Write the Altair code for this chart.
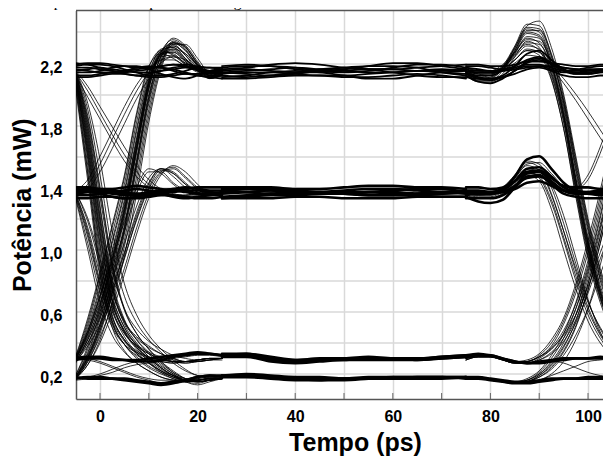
import altair as alt
import pandas as pd

# ---------------- axis / text ----------------
header_text = "multiplexador de amplitudes da Fig. 1."
x_title = "Tempo (ps)"
y_title = "Potência (mW)"
x_grid_values = [0, 10, 20, 30, 40, 50, 60, 70, 80, 90, 100]
y_grid_values = [0.2, 0.4, 0.6, 0.8, 1.0, 1.2, 1.4, 1.6, 1.8, 2.0, 2.2, 2.4]

# ---------------- time grids (ps) ----------------
LEFT_T = [-5, -2.5, 0, 2.5, 5, 7.5, 10, 12.5, 15, 17.5, 20, 22.5, 25]
MID_T = [25, 30, 35, 40, 45, 50, 55, 60, 65, 70, 75]
RIGHT_T = [75, 77.5, 80, 82.5, 85, 87.5, 90, 92.5, 95, 97.5, 100, 102.5, 105]

# ---------------- left side (first crossing) ----------------
left_rise_top = [
    [0.29, 0.45, 0.68, 0.96, 1.26, 1.66, 2.06, 2.25, 2.28, 2.22, 2.16, 2.12, 2.14],
    [0.18, 0.33, 0.55, 0.84, 1.16, 1.58, 2.00, 2.24, 2.31, 2.26, 2.18, 2.12, 2.13],
    [0.30, 0.52, 0.80, 1.10, 1.42, 1.82, 2.14, 2.27, 2.26, 2.19, 2.14, 2.12, 2.15],
    [0.17, 0.28, 0.46, 0.72, 1.02, 1.42, 1.86, 2.18, 2.33, 2.31, 2.21, 2.12, 2.12],
    [0.28, 0.42, 0.62, 0.90, 1.22, 1.64, 2.04, 2.27, 2.35, 2.30, 2.20, 2.12, 2.12],
    [0.31, 0.56, 0.85, 1.16, 1.48, 1.88, 2.18, 2.26, 2.23, 2.18, 2.15, 2.14, 2.16],
    [0.19, 0.36, 0.60, 0.90, 1.24, 1.66, 2.06, 2.28, 2.32, 2.25, 2.15, 2.10, 2.13],
    [0.27, 0.40, 0.58, 0.84, 1.14, 1.56, 1.98, 2.25, 2.36, 2.31, 2.19, 2.10, 2.13],
    [0.30, 0.48, 0.74, 1.04, 1.36, 1.76, 2.10, 2.26, 2.27, 2.21, 2.15, 2.13, 2.15],
    [0.17, 0.30, 0.50, 0.78, 1.10, 1.52, 1.94, 2.22, 2.34, 2.29, 2.18, 2.10, 2.12],
    [0.29, 0.50, 0.76, 1.06, 1.38, 1.78, 2.12, 2.29, 2.30, 2.23, 2.16, 2.13, 2.16],
    [0.18, 0.32, 0.52, 0.80, 1.12, 1.54, 1.96, 2.21, 2.29, 2.26, 2.19, 2.14, 2.14],
    [0.30, 0.44, 0.64, 0.92, 1.24, 1.64, 2.04, 2.24, 2.25, 2.20, 2.17, 2.15, 2.15],
    [0.17, 0.26, 0.42, 0.66, 0.96, 1.36, 1.82, 2.16, 2.32, 2.32, 2.23, 2.13, 2.11],
    [0.29, 0.47, 0.71, 1.00, 1.32, 1.72, 2.08, 2.26, 2.29, 2.22, 2.15, 2.12, 2.14],
    [0.18, 0.34, 0.57, 0.87, 1.20, 1.62, 2.03, 2.26, 2.31, 2.25, 2.17, 2.12, 2.13],
    [0.31, 0.54, 0.83, 1.14, 1.46, 1.86, 2.17, 2.28, 2.25, 2.19, 2.15, 2.13, 2.15],
    [0.17, 0.29, 0.48, 0.75, 1.06, 1.47, 1.90, 2.20, 2.33, 2.30, 2.20, 2.12, 2.12],
    [0.28, 0.43, 0.65, 0.94, 1.26, 1.68, 2.07, 2.27, 2.33, 2.28, 2.19, 2.13, 2.13],
    [0.19, 0.38, 0.63, 0.94, 1.28, 1.70, 2.09, 2.28, 2.30, 2.23, 2.15, 2.11, 2.13],
    [0.30, 0.46, 0.70, 0.98, 1.30, 1.70, 2.08, 2.25, 2.27, 2.21, 2.15, 2.13, 2.15],
    [0.17, 0.31, 0.52, 0.81, 1.14, 1.56, 1.98, 2.24, 2.33, 2.28, 2.18, 2.11, 2.12],
]
left_rise_mid = [
    [0.29, 0.40, 0.56, 0.76, 0.98, 1.22, 1.42, 1.52, 1.50, 1.43, 1.37, 1.35, 1.36],
    [0.17, 0.28, 0.44, 0.64, 0.88, 1.14, 1.36, 1.49, 1.52, 1.46, 1.39, 1.35, 1.35],
    [0.30, 0.46, 0.66, 0.88, 1.12, 1.36, 1.50, 1.50, 1.43, 1.38, 1.36, 1.36, 1.37],
    [0.18, 0.30, 0.48, 0.70, 0.94, 1.20, 1.40, 1.51, 1.49, 1.42, 1.37, 1.35, 1.36],
    [0.28, 0.38, 0.52, 0.72, 0.95, 1.19, 1.39, 1.50, 1.53, 1.47, 1.40, 1.36, 1.35],
    [0.31, 0.48, 0.70, 0.94, 1.18, 1.40, 1.52, 1.49, 1.42, 1.37, 1.36, 1.37, 1.37],
    [0.17, 0.26, 0.40, 0.60, 0.84, 1.10, 1.33, 1.48, 1.54, 1.50, 1.42, 1.36, 1.35],
    [0.29, 0.42, 0.60, 0.81, 1.04, 1.28, 1.46, 1.52, 1.47, 1.40, 1.36, 1.36, 1.37],
    [0.18, 0.31, 0.50, 0.73, 0.98, 1.24, 1.43, 1.52, 1.49, 1.42, 1.37, 1.35, 1.36],
]
left_fall_top = [
    [2.13, 1.68, 1.12, 0.68, 0.48, 0.37, 0.30, 0.24, 0.19, 0.16, 0.16, 0.17, 0.17],
    [2.10, 1.58, 0.98, 0.58, 0.42, 0.34, 0.30, 0.28, 0.27, 0.28, 0.29, 0.30, 0.30],
    [2.15, 1.80, 1.28, 0.80, 0.55, 0.42, 0.33, 0.26, 0.20, 0.16, 0.15, 0.16, 0.17],
    [2.08, 1.50, 0.90, 0.54, 0.39, 0.30, 0.24, 0.20, 0.17, 0.15, 0.16, 0.17, 0.17],
    [2.13, 1.72, 1.18, 0.74, 0.53, 0.43, 0.37, 0.33, 0.30, 0.28, 0.28, 0.29, 0.30],
    [2.15, 1.86, 1.40, 0.92, 0.62, 0.46, 0.36, 0.28, 0.22, 0.17, 0.15, 0.16, 0.17],
    [2.11, 1.62, 1.04, 0.63, 0.46, 0.38, 0.33, 0.30, 0.28, 0.27, 0.28, 0.29, 0.30],
    [2.12, 1.66, 1.10, 0.67, 0.47, 0.36, 0.28, 0.22, 0.18, 0.15, 0.14, 0.16, 0.17],
    [2.09, 1.54, 0.94, 0.57, 0.42, 0.35, 0.31, 0.29, 0.28, 0.27, 0.28, 0.29, 0.29],
    [2.14, 1.76, 1.22, 0.76, 0.52, 0.40, 0.31, 0.24, 0.19, 0.15, 0.13, 0.15, 0.17],
    [2.04, 1.44, 0.84, 0.50, 0.35, 0.27, 0.22, 0.18, 0.16, 0.15, 0.16, 0.17, 0.17],
    [2.15, 1.90, 1.48, 1.00, 0.70, 0.53, 0.42, 0.34, 0.27, 0.22, 0.19, 0.18, 0.18],
    [2.13, 1.82, 1.34, 0.88, 0.62, 0.49, 0.41, 0.36, 0.32, 0.30, 0.29, 0.30, 0.30],
    [2.11, 1.64, 1.08, 0.66, 0.47, 0.37, 0.29, 0.23, 0.19, 0.16, 0.15, 0.16, 0.17],
    [2.13, 1.74, 1.20, 0.75, 0.54, 0.44, 0.38, 0.33, 0.30, 0.28, 0.28, 0.29, 0.30],
    [2.10, 1.60, 1.02, 0.62, 0.44, 0.34, 0.27, 0.21, 0.17, 0.15, 0.16, 0.17, 0.17],
    [2.14, 1.84, 1.38, 0.90, 0.61, 0.46, 0.36, 0.28, 0.21, 0.17, 0.16, 0.17, 0.17],
    [2.12, 1.70, 1.15, 0.71, 0.50, 0.39, 0.31, 0.25, 0.20, 0.16, 0.15, 0.16, 0.17],
    [2.06, 1.48, 0.88, 0.53, 0.39, 0.32, 0.29, 0.28, 0.27, 0.28, 0.29, 0.30, 0.30],
    [2.14, 1.78, 1.26, 0.78, 0.54, 0.42, 0.34, 0.27, 0.21, 0.17, 0.15, 0.16, 0.17],
    [2.15, 1.94, 1.58, 1.12, 0.78, 0.58, 0.45, 0.36, 0.29, 0.23, 0.19, 0.18, 0.18],
]
left_fall_mid = [
    [1.35, 1.08, 0.76, 0.52, 0.39, 0.31, 0.25, 0.21, 0.18, 0.16, 0.16, 0.17, 0.17],
    [1.36, 1.14, 0.84, 0.60, 0.46, 0.38, 0.33, 0.30, 0.28, 0.28, 0.29, 0.30, 0.30],
    [1.33, 1.00, 0.66, 0.45, 0.34, 0.27, 0.22, 0.18, 0.16, 0.15, 0.16, 0.17, 0.17],
    [1.37, 1.18, 0.90, 0.64, 0.48, 0.39, 0.34, 0.31, 0.29, 0.28, 0.29, 0.30, 0.30],
    [1.36, 1.12, 0.80, 0.56, 0.42, 0.33, 0.27, 0.22, 0.18, 0.16, 0.15, 0.16, 0.17],
    [1.34, 1.04, 0.72, 0.50, 0.39, 0.34, 0.31, 0.29, 0.28, 0.28, 0.29, 0.30, 0.30],
    [1.37, 1.20, 0.94, 0.68, 0.50, 0.38, 0.30, 0.24, 0.19, 0.16, 0.16, 0.17, 0.17],
    [1.35, 1.10, 0.78, 0.54, 0.41, 0.33, 0.27, 0.22, 0.19, 0.17, 0.16, 0.17, 0.17],
]
left_top_to_mid = [
    [2.14, 2.02, 1.88, 1.74, 1.61, 1.50, 1.42, 1.37, 1.35, 1.35, 1.36, 1.37, 1.37],
    [2.12, 1.98, 1.84, 1.70, 1.57, 1.47, 1.40, 1.36, 1.34, 1.35, 1.36, 1.36, 1.36],
    [2.15, 2.05, 1.92, 1.79, 1.66, 1.54, 1.45, 1.39, 1.36, 1.35, 1.35, 1.36, 1.37],
]
left_mid_to_top = [
    [1.37, 1.42, 1.55, 1.71, 1.87, 2.02, 2.14, 2.22, 2.24, 2.20, 2.16, 2.14, 2.15],
    [1.36, 1.39, 1.50, 1.65, 1.81, 1.97, 2.10, 2.20, 2.24, 2.22, 2.17, 2.14, 2.14],
    [1.38, 1.45, 1.60, 1.76, 1.92, 2.06, 2.16, 2.22, 2.22, 2.18, 2.15, 2.14, 2.15],
]
left_low_switch = [
    [0.30, 0.29, 0.27, 0.24, 0.21, 0.18, 0.16, 0.14, 0.14, 0.15, 0.17, 0.18, 0.17],
    [0.17, 0.18, 0.20, 0.23, 0.26, 0.28, 0.29, 0.30, 0.31, 0.32, 0.33, 0.33, 0.32],
    [0.31, 0.30, 0.28, 0.25, 0.22, 0.19, 0.17, 0.16, 0.16, 0.16, 0.17, 0.18, 0.18],
    [0.16, 0.17, 0.19, 0.21, 0.24, 0.26, 0.27, 0.28, 0.30, 0.31, 0.32, 0.32, 0.31],
]
left_low_flat = [
    [0.29, 0.30, 0.30, 0.29, 0.29, 0.29, 0.30, 0.31, 0.32, 0.33, 0.34, 0.33, 0.32],
    [0.18, 0.17, 0.17, 0.17, 0.17, 0.16, 0.15, 0.14, 0.15, 0.16, 0.18, 0.19, 0.19],
    [0.30, 0.31, 0.31, 0.30, 0.29, 0.28, 0.28, 0.29, 0.31, 0.32, 0.33, 0.33, 0.32],
    [0.17, 0.18, 0.18, 0.17, 0.16, 0.15, 0.14, 0.13, 0.14, 0.16, 0.18, 0.19, 0.18],
]
left_top_flat = [
    [2.15, 2.16, 2.17, 2.16, 2.15, 2.14, 2.14, 2.15, 2.16, 2.17, 2.16, 2.14, 2.13],
    [2.18, 2.19, 2.19, 2.18, 2.16, 2.14, 2.12, 2.12, 2.13, 2.15, 2.17, 2.17, 2.16],
    [2.12, 2.12, 2.13, 2.14, 2.15, 2.16, 2.17, 2.17, 2.16, 2.14, 2.12, 2.11, 2.12],
    [2.20, 2.19, 2.17, 2.15, 2.13, 2.12, 2.13, 2.15, 2.17, 2.18, 2.17, 2.15, 2.14],
    [2.14, 2.14, 2.15, 2.17, 2.18, 2.18, 2.16, 2.13, 2.11, 2.10, 2.12, 2.15, 2.16],
    [2.17, 2.17, 2.16, 2.15, 2.14, 2.15, 2.16, 2.18, 2.19, 2.18, 2.16, 2.15, 2.15],
    [2.11, 2.11, 2.12, 2.13, 2.13, 2.12, 2.11, 2.11, 2.12, 2.13, 2.12, 2.11, 2.10],
    [2.19, 2.20, 2.20, 2.19, 2.18, 2.17, 2.17, 2.18, 2.19, 2.19, 2.18, 2.17, 2.17],
    [2.16, 2.15, 2.14, 2.14, 2.15, 2.17, 2.18, 2.17, 2.15, 2.13, 2.13, 2.14, 2.15],
]
left_mid_flat = [
    [1.37, 1.38, 1.38, 1.37, 1.36, 1.35, 1.35, 1.36, 1.37, 1.38, 1.38, 1.37, 1.36],
    [1.35, 1.35, 1.36, 1.37, 1.38, 1.39, 1.38, 1.36, 1.34, 1.33, 1.34, 1.35, 1.36],
    [1.39, 1.38, 1.36, 1.34, 1.33, 1.34, 1.36, 1.38, 1.39, 1.38, 1.36, 1.35, 1.35],
    [1.36, 1.37, 1.37, 1.36, 1.35, 1.35, 1.36, 1.37, 1.38, 1.37, 1.36, 1.36, 1.37],
    [1.33, 1.33, 1.34, 1.34, 1.33, 1.33, 1.34, 1.35, 1.35, 1.34, 1.33, 1.33, 1.34],
    [1.40, 1.40, 1.39, 1.39, 1.40, 1.41, 1.40, 1.39, 1.38, 1.39, 1.40, 1.40, 1.40],
    [1.38, 1.39, 1.39, 1.38, 1.37, 1.36, 1.37, 1.38, 1.39, 1.40, 1.39, 1.38, 1.38],
]

# ---------------- middle of the bit (the four levels) ----------------
mid_top = [
    [2.14, 2.15, 2.16, 2.17, 2.16, 2.15, 2.14, 2.14, 2.15, 2.16, 2.15],
    [2.12, 2.11, 2.12, 2.14, 2.16, 2.17, 2.16, 2.14, 2.12, 2.11, 2.11],
    [2.17, 2.18, 2.18, 2.17, 2.15, 2.14, 2.15, 2.17, 2.19, 2.19, 2.17],
    [2.11, 2.12, 2.14, 2.15, 2.14, 2.12, 2.10, 2.10, 2.12, 2.14, 2.15],
    [2.16, 2.17, 2.19, 2.20, 2.19, 2.17, 2.16, 2.16, 2.17, 2.18, 2.19],
    [2.14, 2.13, 2.12, 2.13, 2.15, 2.17, 2.18, 2.18, 2.17, 2.14, 2.12],
    [2.13, 2.14, 2.14, 2.13, 2.12, 2.12, 2.13, 2.14, 2.15, 2.14, 2.13],
    [2.18, 2.19, 2.18, 2.16, 2.15, 2.16, 2.18, 2.20, 2.20, 2.18, 2.16],
    [2.10, 2.10, 2.11, 2.12, 2.12, 2.11, 2.11, 2.12, 2.13, 2.12, 2.10],
    [2.15, 2.16, 2.15, 2.14, 2.14, 2.15, 2.16, 2.16, 2.15, 2.15, 2.16],
]
mid_mid = [
    [1.36, 1.37, 1.38, 1.37, 1.36, 1.36, 1.37, 1.37, 1.36, 1.36, 1.37],
    [1.34, 1.35, 1.36, 1.37, 1.37, 1.36, 1.35, 1.35, 1.35, 1.36, 1.37],
    [1.39, 1.39, 1.38, 1.37, 1.36, 1.36, 1.37, 1.38, 1.39, 1.39, 1.37],
    [1.33, 1.34, 1.35, 1.35, 1.36, 1.37, 1.37, 1.36, 1.35, 1.34, 1.34],
    [1.37, 1.39, 1.39, 1.38, 1.37, 1.36, 1.35, 1.35, 1.36, 1.37, 1.38],
    [1.38, 1.37, 1.36, 1.36, 1.37, 1.38, 1.39, 1.39, 1.38, 1.37, 1.36],
    [1.33, 1.33, 1.33, 1.34, 1.34, 1.33, 1.33, 1.33, 1.34, 1.34, 1.34],
    [1.40, 1.40, 1.40, 1.39, 1.39, 1.40, 1.41, 1.41, 1.40, 1.40, 1.39],
]
mid_l1 = [
    [0.32, 0.32, 0.29, 0.28, 0.29, 0.30, 0.30, 0.30, 0.30, 0.31, 0.32],
    [0.31, 0.31, 0.28, 0.27, 0.28, 0.29, 0.29, 0.29, 0.29, 0.30, 0.31],
    [0.33, 0.33, 0.30, 0.29, 0.30, 0.30, 0.31, 0.30, 0.30, 0.31, 0.32],
    [0.32, 0.33, 0.31, 0.29, 0.29, 0.29, 0.30, 0.30, 0.29, 0.30, 0.31],
]
mid_l0 = [
    [0.19, 0.19, 0.18, 0.17, 0.17, 0.17, 0.17, 0.17, 0.18, 0.18, 0.18],
    [0.18, 0.18, 0.17, 0.16, 0.16, 0.17, 0.17, 0.17, 0.17, 0.17, 0.18],
    [0.19, 0.20, 0.19, 0.18, 0.18, 0.17, 0.18, 0.18, 0.18, 0.18, 0.18],
    [0.18, 0.19, 0.18, 0.17, 0.16, 0.16, 0.17, 0.18, 0.18, 0.18, 0.17],
]

# ---------------- right side (second crossing) ----------------
right_top_flat = [
    [2.15, 2.14, 2.14, 2.15, 2.17, 2.19, 2.19, 2.17, 2.15, 2.15, 2.16, 2.16, 2.15],
    [2.12, 2.08, 2.07, 2.10, 2.15, 2.20, 2.22, 2.19, 2.15, 2.13, 2.13, 2.14, 2.15],
    [2.17, 2.16, 2.15, 2.15, 2.16, 2.18, 2.18, 2.16, 2.14, 2.14, 2.15, 2.16, 2.16],
    [2.14, 2.11, 2.10, 2.12, 2.18, 2.26, 2.28, 2.22, 2.16, 2.13, 2.13, 2.14, 2.14],
    [2.18, 2.18, 2.17, 2.16, 2.16, 2.17, 2.18, 2.18, 2.17, 2.16, 2.15, 2.15, 2.15],
    [2.13, 2.10, 2.09, 2.11, 2.15, 2.21, 2.23, 2.20, 2.17, 2.16, 2.17, 2.18, 2.18],
    [2.11, 2.10, 2.10, 2.11, 2.13, 2.16, 2.17, 2.15, 2.12, 2.11, 2.11, 2.12, 2.12],
    [2.19, 2.19, 2.18, 2.18, 2.19, 2.21, 2.21, 2.20, 2.19, 2.18, 2.18, 2.19, 2.19],
    [2.16, 2.15, 2.15, 2.16, 2.18, 2.22, 2.24, 2.20, 2.16, 2.14, 2.14, 2.15, 2.16],
]
right_fall_top = [
    [2.15, 2.12, 2.12, 2.16, 2.25, 2.33, 2.32, 2.18, 1.90, 1.46, 1.05, 0.74, 0.52],
    [2.13, 2.09, 2.10, 2.16, 2.28, 2.40, 2.38, 2.20, 1.86, 1.40, 1.00, 0.70, 0.50],
    [2.16, 2.14, 2.14, 2.18, 2.26, 2.32, 2.28, 2.10, 1.78, 1.34, 0.94, 0.66, 0.47],
    [2.14, 2.11, 2.12, 2.18, 2.31, 2.45, 2.44, 2.25, 1.94, 1.52, 1.12, 0.80, 0.58],
    [2.17, 2.15, 2.15, 2.19, 2.27, 2.35, 2.34, 2.20, 1.92, 1.50, 1.08, 0.77, 0.55],
    [2.12, 2.08, 2.08, 2.13, 2.24, 2.34, 2.30, 2.12, 1.82, 1.38, 0.98, 0.69, 0.48],
    [2.15, 2.13, 2.13, 2.17, 2.29, 2.42, 2.40, 2.22, 1.96, 1.58, 1.18, 0.86, 0.62],
    [2.16, 2.13, 2.12, 2.15, 2.22, 2.29, 2.27, 2.14, 1.85, 1.42, 1.02, 0.72, 0.50],
    [2.14, 2.12, 2.12, 2.16, 2.26, 2.37, 2.36, 2.19, 1.88, 1.44, 1.04, 0.73, 0.52],
    [2.13, 2.10, 2.11, 2.17, 2.30, 2.44, 2.47, 2.30, 2.00, 1.60, 1.20, 0.88, 0.64],
    [2.15, 2.13, 2.13, 2.17, 2.27, 2.36, 2.33, 2.16, 1.86, 1.44, 1.03, 0.72, 0.51],
    [2.14, 2.11, 2.11, 2.16, 2.28, 2.41, 2.41, 2.24, 1.95, 1.54, 1.14, 0.82, 0.59],
    [2.16, 2.14, 2.14, 2.17, 2.24, 2.31, 2.29, 2.13, 1.83, 1.40, 1.00, 0.70, 0.49],
    [2.13, 2.09, 2.09, 2.15, 2.27, 2.39, 2.37, 2.18, 1.87, 1.46, 1.06, 0.75, 0.53],
    [2.15, 2.12, 2.12, 2.17, 2.30, 2.43, 2.42, 2.26, 1.98, 1.56, 1.16, 0.84, 0.61],
    [2.17, 2.15, 2.14, 2.16, 2.22, 2.28, 2.25, 2.09, 1.78, 1.36, 0.96, 0.68, 0.48],
]
right_top_to_mid = [
    [2.15, 2.13, 2.13, 2.16, 2.22, 2.28, 2.27, 2.19, 2.10, 2.00, 1.89, 1.77, 1.65],
    [2.14, 2.12, 2.12, 2.15, 2.20, 2.25, 2.24, 2.17, 2.07, 1.96, 1.84, 1.72, 1.60],
]
right_mid_to_top = [
    [1.36, 1.36, 1.36, 1.38, 1.44, 1.52, 1.53, 1.47, 1.40, 1.40, 1.48, 1.66, 1.88],
    [1.37, 1.36, 1.36, 1.39, 1.46, 1.55, 1.56, 1.49, 1.41, 1.39, 1.45, 1.62, 1.84],
]
right_mid_flat = [
    [1.36, 1.36, 1.36, 1.38, 1.44, 1.52, 1.53, 1.47, 1.40, 1.37, 1.36, 1.36, 1.37],
    [1.37, 1.37, 1.37, 1.39, 1.47, 1.58, 1.60, 1.52, 1.43, 1.38, 1.37, 1.37, 1.36],
    [1.35, 1.36, 1.36, 1.37, 1.41, 1.46, 1.47, 1.43, 1.38, 1.36, 1.36, 1.37, 1.37],
    [1.34, 1.31, 1.30, 1.32, 1.40, 1.49, 1.50, 1.44, 1.38, 1.36, 1.37, 1.38, 1.37],
    [1.38, 1.38, 1.37, 1.37, 1.39, 1.43, 1.44, 1.41, 1.38, 1.37, 1.36, 1.35, 1.36],
    [1.33, 1.33, 1.33, 1.35, 1.40, 1.47, 1.48, 1.42, 1.36, 1.34, 1.33, 1.33, 1.34],
    [1.40, 1.40, 1.39, 1.40, 1.44, 1.50, 1.51, 1.46, 1.41, 1.40, 1.40, 1.39, 1.40],
]
right_fall_mid = [
    [1.36, 1.35, 1.35, 1.38, 1.45, 1.52, 1.50, 1.42, 1.22, 0.95, 0.68, 0.47, 0.34],
    [1.37, 1.36, 1.36, 1.39, 1.47, 1.56, 1.53, 1.36, 1.12, 0.86, 0.63, 0.46, 0.35],
    [1.35, 1.33, 1.33, 1.36, 1.42, 1.48, 1.44, 1.26, 1.00, 0.75, 0.54, 0.40, 0.31],
    [1.36, 1.35, 1.36, 1.39, 1.46, 1.54, 1.51, 1.35, 1.12, 0.88, 0.66, 0.50, 0.38],
    [1.36, 1.35, 1.35, 1.38, 1.44, 1.50, 1.46, 1.30, 1.06, 0.80, 0.58, 0.43, 0.33],
    [1.37, 1.36, 1.37, 1.40, 1.48, 1.57, 1.55, 1.40, 1.17, 0.91, 0.67, 0.49, 0.37],
    [1.35, 1.34, 1.34, 1.37, 1.43, 1.50, 1.47, 1.32, 1.08, 0.83, 0.61, 0.45, 0.34],
]
right_rise_top = [
    [0.17, 0.17, 0.16, 0.15, 0.14, 0.15, 0.18, 0.24, 0.34, 0.50, 0.74, 1.04, 1.38],
    [0.29, 0.31, 0.31, 0.29, 0.27, 0.27, 0.30, 0.36, 0.46, 0.62, 0.86, 1.16, 1.50],
    [0.18, 0.18, 0.17, 0.15, 0.14, 0.16, 0.21, 0.30, 0.43, 0.62, 0.88, 1.20, 1.56],
    [0.30, 0.32, 0.32, 0.30, 0.28, 0.28, 0.31, 0.38, 0.52, 0.72, 0.98, 1.30, 1.66],
    [0.17, 0.17, 0.16, 0.15, 0.14, 0.14, 0.16, 0.20, 0.28, 0.42, 0.62, 0.90, 1.22],
    [0.29, 0.31, 0.31, 0.30, 0.28, 0.27, 0.29, 0.33, 0.41, 0.55, 0.78, 1.08, 1.42],
    [0.18, 0.18, 0.17, 0.16, 0.15, 0.16, 0.20, 0.28, 0.40, 0.58, 0.84, 1.14, 1.48],
    [0.30, 0.32, 0.32, 0.30, 0.28, 0.29, 0.33, 0.42, 0.56, 0.78, 1.06, 1.38, 1.74],
    [0.17, 0.17, 0.16, 0.15, 0.14, 0.15, 0.19, 0.26, 0.37, 0.54, 0.78, 1.08, 1.42],
    [0.29, 0.31, 0.31, 0.29, 0.27, 0.28, 0.31, 0.37, 0.48, 0.65, 0.90, 1.22, 1.58],
    [0.18, 0.18, 0.17, 0.15, 0.14, 0.15, 0.19, 0.25, 0.35, 0.51, 0.74, 1.04, 1.40],
    [0.30, 0.32, 0.31, 0.29, 0.27, 0.27, 0.29, 0.34, 0.43, 0.58, 0.81, 1.12, 1.48],
    [0.17, 0.17, 0.16, 0.15, 0.15, 0.17, 0.22, 0.32, 0.46, 0.66, 0.93, 1.26, 1.62],
    [0.31, 0.32, 0.32, 0.30, 0.28, 0.28, 0.32, 0.40, 0.54, 0.75, 1.02, 1.34, 1.70],
]
right_rise_mid = [
    [0.17, 0.17, 0.16, 0.15, 0.14, 0.15, 0.18, 0.23, 0.32, 0.45, 0.62, 0.84, 1.06],
    [0.30, 0.31, 0.31, 0.29, 0.27, 0.28, 0.31, 0.36, 0.45, 0.58, 0.76, 0.98, 1.18],
    [0.18, 0.18, 0.17, 0.15, 0.15, 0.16, 0.20, 0.27, 0.38, 0.53, 0.72, 0.94, 1.14],
]
right_low_switch = [
    [0.30, 0.31, 0.31, 0.29, 0.27, 0.27, 0.28, 0.28, 0.27, 0.24, 0.21, 0.19, 0.18],
    [0.18, 0.18, 0.17, 0.16, 0.15, 0.15, 0.16, 0.19, 0.22, 0.25, 0.28, 0.29, 0.30],
]
right_low_flat = [
    [0.31, 0.32, 0.32, 0.30, 0.28, 0.27, 0.27, 0.28, 0.29, 0.30, 0.30, 0.30, 0.29],
    [0.18, 0.18, 0.17, 0.16, 0.15, 0.15, 0.16, 0.17, 0.17, 0.17, 0.17, 0.17, 0.17],
    [0.17, 0.17, 0.16, 0.15, 0.14, 0.14, 0.15, 0.16, 0.17, 0.17, 0.18, 0.18, 0.17],
    [0.32, 0.33, 0.32, 0.30, 0.28, 0.27, 0.28, 0.29, 0.30, 0.30, 0.30, 0.31, 0.30],
]

# ---------------- build the long table ----------------
EDGE_W = 0.8
TOP_W = 1.8
BAND_W = 2.6
groups = [
    (LEFT_T, left_rise_top, EDGE_W), (LEFT_T, left_rise_mid, EDGE_W),
    (LEFT_T, left_fall_top, EDGE_W), (LEFT_T, left_fall_mid, EDGE_W),
    (LEFT_T, left_top_to_mid, EDGE_W), (LEFT_T, left_mid_to_top, EDGE_W),
    (LEFT_T, left_low_switch, EDGE_W), (LEFT_T, left_low_flat, BAND_W),
    (LEFT_T, left_top_flat, TOP_W), (LEFT_T, left_mid_flat, BAND_W),
    (MID_T, mid_top, TOP_W), (MID_T, mid_mid, BAND_W),
    (MID_T, mid_l1, BAND_W), (MID_T, mid_l0, BAND_W),
    (RIGHT_T, right_top_flat, TOP_W), (RIGHT_T, right_fall_top, EDGE_W),
    (RIGHT_T, right_top_to_mid, EDGE_W), (RIGHT_T, right_mid_to_top, EDGE_W),
    (RIGHT_T, right_mid_flat, BAND_W), (RIGHT_T, right_fall_mid, EDGE_W),
    (RIGHT_T, right_rise_top, EDGE_W), (RIGHT_T, right_rise_mid, EDGE_W),
    (RIGHT_T, right_low_switch, EDGE_W), (RIGHT_T, right_low_flat, BAND_W),
]
rows = []
tid = 0
for tgrid, traces, w in groups:
    for tr in traces:
        for t, v in zip(tgrid, tr):
            rows.append({"t": t, "p": v, "trace": tid, "w": w})
        tid += 1
df = pd.DataFrame(rows)

# ---------------- chart ----------------
# svg is 595 px wide (fits the page body), plot spans page x 76..603
W, H = 527, 388.5
FONT = "Liberation Sans"
x_scale = alt.Scale(domain=[-4.92, 103.07], nice=False, zero=False)
y_scale = alt.Scale(domain=[0.039, 2.538], nice=False, zero=False)

x_axis = alt.Axis(
    values=x_grid_values, title=x_title,
    labelExpr="datum.value % 20 === 0 ? '' + datum.value : ''",
    labelFont=FONT, labelFontSize=16, labelFontWeight="bold", labelColor="black",
    labelPadding=9, ticks=False, labelFlush=False, labelOverlap=False,
    titleFont=FONT, titleFontSize=25, titleFontWeight="bold", titleColor="black",
    titleX=279, titleY=51, titleBaseline="alphabetic", titleAlign="center",
    domainColor="#555555", domainWidth=1.5,
    grid=True, gridColor="#d9d9d9", gridWidth=1.5,
)
y_axis = alt.Axis(
    values=y_grid_values, title=y_title,
    labelExpr="round(datum.value * 10) % 4 === 2 ? replace(format(datum.value, '.1f'), '.', ',') : ''",
    labelFont=FONT, labelFontSize=16, labelFontWeight="bold", labelColor="black",
    labelPadding=14, labelOffset=4, ticks=False, labelFlush=False, labelOverlap=False,
    titleFont=FONT, titleFontSize=25, titleFontWeight="bold", titleColor="black",
    titleX=-53.5, titleAngle=-90, titleBaseline="middle", titleAlign="center",
    domainColor="#555555", domainWidth=1.5,
    grid=True, gridColor="#d9d9d9", gridWidth=1.5,
)

lines = alt.Chart(df).mark_line(
    color="black", interpolate="monotone", clip=True, strokeCap="round", strokeJoin="round"
).encode(
    x=alt.X("t:Q", scale=x_scale, axis=x_axis),
    y=alt.Y("p:Q", scale=y_scale, axis=y_axis),
    detail="trace:N",
    strokeWidth=alt.StrokeWidth("w:Q", scale=None),
)

ticks = alt.Chart(pd.DataFrame({"t": x_grid_values})).mark_rule(color="#666666", strokeWidth=1).encode(
    x=alt.X("t:Q", scale=x_scale, axis=x_axis),
    y=alt.value(H - 6),
    y2=alt.value(H),
)

top_border = alt.Chart(pd.DataFrame({"a": [0]})).mark_rule(color="#555555", strokeWidth=1.5).encode(
    x=alt.value(0), x2=alt.value(W), y=alt.value(0)
)

header = alt.Chart(pd.DataFrame({"s": [header_text]})).mark_text(
    font="Liberation Serif", fontSize=15.5, align="left", baseline="alphabetic", color="black"
).encode(text="s:N", x=alt.value(-55), y=alt.value(-4))

chart = alt.layer(lines, ticks, top_border, header).properties(
    width=W, height=H,
    padding={"left": 68, "top": 2.5, "right": 0, "bottom": 58},
    autosize=alt.AutoSizeParams(type="none"),
).configure_view(stroke=None)

chart.save("out.html", embed_options={"renderer": "svg", "actions": False})
